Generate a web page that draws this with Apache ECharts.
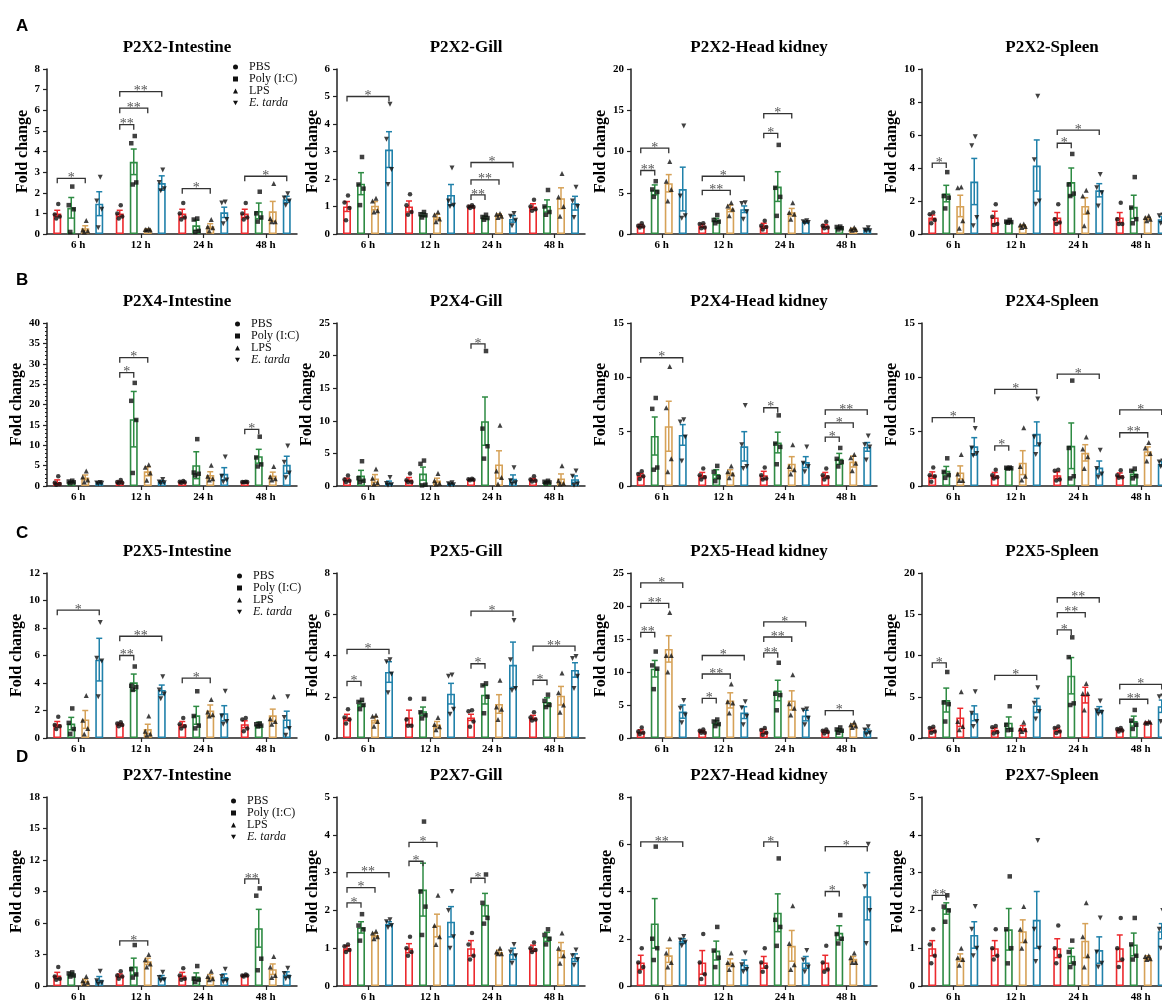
<!DOCTYPE html>
<html>
<head>
<meta charset="utf-8">
<script src="https://cdn.jsdelivr.net/npm/echarts@6/dist/echarts.min.js"></script>
<style>
html, body { margin: 0; padding: 0; background: #fff; }
#chart { width: 1162px; height: 1006px; }
</style>
</head>
<body>
<div id="chart"></div>
<script>
// categories / groups
const times = ['6 h', '12 h', '24 h', '48 h'];
const groups = ['PBS', 'Poly (I:C)', 'LPS', 'E. tarda'];
const titles = [
  'P2X2-Intestine', 'P2X2-Gill', 'P2X2-Head kidney', 'P2X2-Spleen',
  'P2X4-Intestine', 'P2X4-Gill', 'P2X4-Head kidney', 'P2X4-Spleen',
  'P2X5-Intestine', 'P2X5-Gill', 'P2X5-Head kidney', 'P2X5-Spleen',
  'P2X7-Intestine', 'P2X7-Gill', 'P2X7-Head kidney', 'P2X7-Spleen'
];
const yMax = [8, 6, 20, 10, 40, 25, 15, 15, 12, 8, 25, 20, 18, 5, 8, 5];
const yStep = [1, 1, 5, 2, 5, 5, 5, 5, 2, 2, 5, 5, 3, 1, 2, 1];
const letters = ['A', 'B', 'C', 'D'];

// rows = time (6,12,24,48 h), columns = PBS, Poly (I:C), LPS, E. tarda
// sig rows: [time, from group, to group, bracket height, stars]

// ---- P2X2 ----
const p2x2IntMean = [[1.0, 1.27, 0.28, 1.47], [1.0, 3.5, 0.22, 2.47], [1.0, 0.42, 0.38, 1.05], [1.0, 1.12, 1.1, 1.68]];
const p2x2IntSem = [[0.15, 0.5, 0.12, 0.58], [0.15, 0.62, 0.03, 0.35], [0.2, 0.25, 0.12, 0.25], [0.2, 0.38, 0.48, 0.15]];
const p2x2IntPts = [
  [[1.45, 0.95, 0.85, 0.75], [2.3, 1.4, 1.2, 0.1], [0.65, 0.2, 0.15, 0.1], [2.75, 1.6, 1.2, 0.3]],
  [[1.4, 1.0, 0.85, 0.75], [4.75, 4.4, 2.5, 2.4], [0.25, 0.22, 0.2, 0.2], [3.1, 2.5, 2.2, 2.1]],
  [[1.5, 1.0, 0.8, 0.7], [0.75, 0.7, 0.15, 0.1], [0.7, 0.35, 0.3, 0.15], [1.55, 1.5, 0.7, 0.5]],
  [[1.5, 1.0, 0.8, 0.7], [2.05, 1.0, 0.8, 0.6], [2.45, 0.75, 0.6, 0.6], [1.95, 1.75, 1.6, 1.4]]
];
const p2x2IntSig = [[0, 0, 2, 2.7, 1], [1, 0, 1, 5.3, 2], [1, 0, 2, 6.1, 2], [1, 0, 3, 6.9, 2], [2, 0, 2, 2.2, 1], [3, 0, 3, 2.8, 1]];

const p2x2GillMean = [[1.0, 1.83, 1.03, 3.07], [1.0, 0.7, 0.62, 1.42], [1.0, 0.6, 0.68, 0.55], [1.0, 1.02, 1.3, 1.12]];
const p2x2GillSem = [[0.18, 0.4, 0.15, 0.65], [0.2, 0.06, 0.1, 0.38], [0.03, 0.05, 0.05, 0.12], [0.1, 0.22, 0.38, 0.25]];
const p2x2GillPts = [
  [[1.4, 1.15, 0.95, 0.5], [2.8, 1.8, 1.65, 1.05], [1.3, 1.2, 0.85, 0.8], [4.72, 3.45, 2.35, 1.8]],
  [[1.45, 1.05, 0.8, 0.7], [0.8, 0.72, 0.68, 0.6], [0.8, 0.7, 0.55, 0.45], [2.4, 1.2, 1.05, 1.0]],
  [[1.05, 1.0, 0.98, 0.95], [0.7, 0.62, 0.58, 0.52], [0.75, 0.72, 0.65, 0.6], [0.75, 0.65, 0.5, 0.3]],
  [[1.25, 1.0, 0.9, 0.85], [1.6, 1.0, 0.8, 0.7], [2.2, 1.35, 1.0, 0.65], [1.7, 1.2, 1.0, 0.6]]
];
const p2x2GillSig = [[0, 0, 3, 5.0, 1], [2, 0, 1, 1.42, 2], [2, 0, 2, 1.97, 2], [2, 0, 3, 2.6, 1]];

const p2x2HkMean = [[1.0, 5.35, 6.15, 5.45], [1.0, 1.7, 3.1, 3.0], [1.0, 5.75, 2.65, 1.45], [1.0, 0.75, 0.6, 0.5]];
const p2x2HkSem = [[0.15, 0.6, 1.05, 2.65], [0.2, 0.2, 0.4, 0.4], [0.3, 1.8, 0.45, 0.1], [0.15, 0.1, 0.1, 0.12]];
const p2x2HkPts = [
  [[1.3, 1.0, 0.9, 0.8], [6.4, 5.4, 5.1, 4.5], [8.8, 6.4, 5.4, 4.0], [13.1, 4.6, 2.2, 1.9]],
  [[1.3, 1.2, 0.8, 0.7], [2.3, 1.7, 1.5, 1.3], [3.8, 3.4, 3.0, 2.2], [3.8, 3.7, 2.7, 1.8]],
  [[1.6, 1.0, 0.85, 0.55], [10.8, 5.6, 4.5, 2.2], [3.8, 2.6, 2.4, 1.8], [1.6, 1.5, 1.4, 1.3]],
  [[1.5, 1.0, 0.8, 0.7], [0.9, 0.85, 0.7, 0.55], [0.8, 0.6, 0.55, 0.45], [0.75, 0.5, 0.4, 0.35]]
];
const p2x2HkSig = [[0, 0, 1, 7.7, 2], [0, 0, 2, 10.4, 1], [1, 0, 2, 5.3, 2], [1, 0, 3, 7.0, 1], [2, 0, 1, 12.2, 1], [2, 0, 2, 14.6, 1]];

const p2x2SplMean = [[1.0, 2.45, 1.7, 3.18], [1.0, 0.75, 0.5, 4.15], [1.0, 3.15, 1.7, 2.65], [1.0, 1.65, 0.95, 0.9]];
const p2x2SplSem = [[0.15, 0.5, 0.65, 1.4], [0.38, 0.05, 0.05, 1.55], [0.3, 0.85, 0.5, 0.4], [0.3, 0.7, 0.07, 0.15]];
const p2x2SplPts = [
  [[1.3, 1.2, 0.85, 0.65], [3.75, 2.3, 2.2, 1.55], [2.85, 2.8, 0.8, 0.35], [5.9, 5.35, 1.0, 0.5]],
  [[1.8, 1.05, 0.6, 0.55], [0.85, 0.75, 0.72, 0.68], [0.6, 0.55, 0.45, 0.4], [8.35, 4.5, 2.0, 1.8]],
  [[1.8, 0.9, 0.7, 0.6], [4.85, 3.0, 2.45, 2.3], [2.65, 2.3, 1.35, 0.5], [3.6, 2.8, 2.5, 1.7]],
  [[1.9, 0.9, 0.6, 0.6], [3.45, 1.6, 0.9, 0.65], [1.1, 1.0, 0.9, 0.8], [1.15, 1.1, 0.7, 0.65]]
];
const p2x2SplSig = [[0, 0, 1, 4.3, 1], [2, 0, 1, 5.5, 1], [2, 0, 3, 6.3, 1]];

// ---- P2X4 ----
const p2x4IntMean = [[1.0, 1.0, 2.1, 0.7], [1.0, 16.4, 3.6, 1.0], [1.0, 5.1, 2.7, 3.0], [1.0, 7.3, 2.6, 5.2]];
const p2x4IntSem = [[0.5, 0.15, 0.6, 0.1], [0.2, 6.8, 1.1, 0.3], [0.1, 3.3, 0.8, 1.5], [0.05, 1.7, 0.8, 2.1]];
const p2x4IntPts = [
  [[2.4, 0.8, 0.5, 0.3], [1.3, 1.1, 0.9, 0.7], [3.7, 2.2, 1.5, 1.0], [0.85, 0.75, 0.65, 0.55]],
  [[1.5, 1.0, 0.8, 0.7], [25.3, 20.9, 16.2, 3.2], [5.2, 4.6, 3.2, 1.4], [1.6, 1.0, 0.8, 0.6]],
  [[1.2, 1.05, 0.95, 0.8], [11.5, 3.3, 3.0, 2.6], [5.1, 2.4, 1.8, 1.5], [7.1, 2.4, 1.5, 1.0]],
  [[1.05, 1.0, 1.0, 0.95], [12.1, 7.0, 5.3, 4.8], [4.8, 2.3, 1.8, 1.5], [9.8, 5.8, 3.2, 2.0]]
];
const p2x4IntSig = [[1, 0, 1, 27.8, 1], [1, 0, 2, 31.5, 1], [3, 0, 1, 13.9, 1]];

const p2x4GillMean = [[1.0, 1.6, 1.15, 0.5], [1.0, 1.9, 0.85, 0.3], [1.0, 9.95, 3.3, 1.1], [1.0, 0.6, 1.15, 1.05]];
const p2x4GillSem = [[0.2, 0.8, 0.6, 0.25], [0.3, 1.0, 0.35, 0.1], [0.05, 3.7, 2.1, 0.6], [0.15, 0.1, 0.7, 0.5]];
const p2x4GillPts = [
  [[1.6, 1.0, 0.8, 0.6], [3.8, 1.2, 0.8, 0.6], [2.6, 1.2, 0.5, 0.3], [1.3, 0.4, 0.2, 0.1]],
  [[1.9, 0.9, 0.6, 0.6], [3.9, 3.4, 0.2, 0.1], [1.9, 0.8, 0.4, 0.3], [0.5, 0.35, 0.2, 0.15]],
  [[1.1, 1.05, 0.95, 0.9], [20.7, 8.8, 6.1, 4.2], [9.3, 2.3, 1.3, 0.3], [2.8, 0.8, 0.5, 0.3]],
  [[1.5, 1.0, 0.8, 0.7], [0.8, 0.65, 0.55, 0.4], [3.1, 0.8, 0.4, 0.3], [2.3, 1.5, 0.3, 0.1]]
];
const p2x4GillSig = [[2, 0, 1, 21.8, 1]];

const p2x4HkMean = [[1.0, 4.6, 5.5, 4.7], [1.0, 1.1, 1.25, 3.65], [1.0, 4.0, 2.05, 2.2], [1.0, 2.5, 2.25, 3.6]];
const p2x4HkSem = [[0.15, 1.75, 2.3, 0.95], [0.25, 0.4, 0.25, 1.35], [0.35, 0.95, 0.65, 0.5], [0.25, 0.5, 0.5, 0.4]];
const p2x4HkPts = [
  [[1.35, 1.1, 0.9, 0.65], [8.1, 7.1, 1.7, 1.5], [11.0, 7.2, 2.5, 1.3], [6.1, 5.9, 4.5, 2.3]],
  [[1.6, 1.0, 0.8, 0.6], [1.85, 1.3, 0.8, 0.45], [1.85, 1.3, 1.1, 0.75], [7.4, 3.8, 1.8, 1.6]],
  [[1.7, 1.0, 0.7, 0.6], [6.5, 3.9, 3.6, 2.0], [3.8, 1.8, 1.5, 1.1], [3.6, 2.1, 1.8, 1.3]],
  [[1.6, 1.0, 0.8, 0.6], [3.5, 2.5, 2.2, 1.8], [2.9, 2.6, 2.1, 1.4], [4.6, 3.8, 3.6, 2.4]]
];
const p2x4HkSig = [[0, 0, 3, 11.8, 1], [2, 0, 1, 7.2, 1], [3, 0, 1, 4.5, 1], [3, 0, 2, 5.8, 1], [3, 0, 3, 7.0, 2]];

const p2x4SplMean = [[1.0, 1.4, 1.25, 3.65], [1.0, 1.65, 2.15, 4.8], [1.0, 3.7, 3.05, 1.7], [1.0, 1.15, 3.2, 2.05]];
const p2x4SplSem = [[0.3, 0.4, 0.6, 0.8], [0.25, 0.03, 1.1, 1.1], [0.3, 2.1, 0.75, 0.6], [0.2, 0.25, 0.4, 0.2]];
const p2x4SplPts = [
  [[1.7, 1.0, 0.9, 0.4], [2.55, 1.3, 1.0, 0.75], [2.9, 1.1, 0.5, 0.5], [5.3, 3.5, 3.0, 2.8]],
  [[1.5, 1.0, 0.8, 0.7], [1.7, 1.68, 1.63, 1.6], [5.35, 1.8, 0.9, 0.55], [8.0, 4.5, 3.8, 2.9]],
  [[1.5, 1.4, 0.6, 0.5], [9.7, 3.5, 0.9, 0.7], [4.5, 3.4, 2.7, 1.6], [3.3, 1.6, 1.1, 0.8]],
  [[1.45, 1.0, 0.8, 0.75], [1.6, 1.4, 0.9, 0.7], [4.0, 3.5, 3.0, 2.3], [2.3, 2.2, 1.9, 1.8]]
];
const p2x4SplSig = [[0, 0, 3, 6.3, 1], [1, 0, 1, 3.7, 1], [1, 0, 3, 8.9, 1], [2, 0, 3, 10.3, 1], [3, 0, 2, 4.9, 2], [3, 0, 3, 7.0, 1]];

// ---- P2X5 ----
const p2x5IntMean = [[1.0, 1.05, 1.35, 5.7], [1.0, 4.05, 0.65, 3.5], [1.0, 1.65, 2.0, 1.8], [1.0, 0.95, 1.65, 1.35]];
const p2x5IntSem = [[0.2, 0.45, 0.65, 1.55], [0.08, 0.6, 0.35, 0.35], [0.2, 0.65, 0.4, 0.55], [0.25, 0.2, 0.45, 0.6]];
const p2x5IntPts = [
  [[1.55, 0.95, 0.85, 0.65], [2.15, 1.1, 0.65, 0.3], [3.1, 1.3, 0.7, 0.3], [8.4, 5.8, 5.6, 3.0]],
  [[1.15, 1.05, 0.95, 0.85], [5.2, 3.8, 3.7, 3.5], [1.6, 0.5, 0.3, 0.2], [4.45, 3.5, 3.2, 2.85]],
  [[1.45, 1.0, 0.85, 0.7], [3.4, 1.6, 0.9, 0.7], [2.8, 1.9, 1.7, 1.6], [3.4, 1.6, 1.2, 1.0]],
  [[1.45, 1.35, 0.7, 0.5], [1.05, 1.0, 0.9, 0.85], [3.0, 1.4, 1.2, 1.0], [3.0, 1.5, 0.7, 0.2]]
];
const p2x5IntSig = [[0, 0, 3, 9.3, 1], [1, 0, 1, 6.0, 2], [1, 0, 3, 7.4, 2], [2, 0, 2, 4.35, 1]];

const p2x5GillMean = [[1.0, 1.65, 0.88, 3.2], [1.0, 1.3, 0.65, 2.15], [1.0, 2.1, 1.65, 3.55], [1.0, 1.75, 2.05, 3.3]];
const p2x5GillSem = [[0.15, 0.12, 0.15, 0.5], [0.35, 0.2, 0.15, 0.5], [0.15, 0.45, 0.45, 1.1], [0.1, 0.2, 0.45, 0.35]];
const p2x5GillPts = [
  [[1.4, 1.0, 0.9, 0.7], [1.85, 1.75, 1.6, 1.4], [1.1, 1.05, 0.8, 0.57], [3.8, 3.7, 3.1, 2.2]],
  [[1.9, 0.9, 0.6, 0.6], [1.9, 1.25, 1.1, 0.95], [1.0, 0.65, 0.55, 0.4], [3.05, 3.0, 1.4, 1.15]],
  [[1.35, 1.3, 0.8, 0.55], [2.65, 2.55, 2.0, 1.2], [2.8, 1.5, 1.4, 0.9], [5.7, 3.8, 2.4, 2.3]],
  [[1.25, 1.0, 0.9, 0.85], [2.1, 1.8, 1.6, 1.5], [3.15, 2.2, 1.6, 1.25], [3.95, 3.85, 3.0, 2.4]]
];
const p2x5GillSig = [[0, 0, 1, 2.75, 1], [0, 0, 3, 4.3, 1], [2, 0, 1, 3.6, 1], [2, 0, 3, 6.15, 1], [3, 0, 1, 2.8, 1], [3, 0, 3, 4.45, 2]];

const p2x5HkMean = [[1.0, 10.5, 13.5, 4.0], [1.0, 2.3, 5.7, 3.85], [1.0, 7.2, 5.7, 3.4], [1.0, 1.2, 1.95, 1.05]];
const p2x5HkSem = [[0.25, 1.25, 2.0, 1.0], [0.15, 0.3, 1.15, 0.9], [0.3, 1.55, 1.45, 0.8], [0.15, 0.2, 0.2, 0.3]];
const p2x5HkPts = [
  [[1.6, 1.0, 0.8, 0.6], [13.1, 11.0, 10.5, 7.4], [19.0, 12.5, 12.5, 10.0], [5.7, 4.5, 3.5, 2.3]],
  [[1.3, 1.1, 0.8, 0.8], [2.8, 2.5, 2.1, 1.8], [8.2, 5.5, 5.3, 3.8], [5.5, 4.6, 3.3, 2.0]],
  [[1.5, 1.2, 0.8, 0.5], [11.4, 6.7, 6.5, 4.2], [9.6, 5.2, 4.5, 3.5], [4.4, 4.2, 3.0, 2.0]],
  [[1.3, 1.1, 0.9, 0.7], [1.6, 1.3, 1.1, 0.8], [2.4, 2.0, 1.8, 1.6], [1.7, 1.2, 0.8, 0.5]]
];
const p2x5HkSig = [[0, 0, 1, 16.0, 2], [0, 0, 2, 20.4, 2], [0, 0, 3, 23.5, 1], [1, 0, 1, 6.0, 1], [1, 0, 2, 9.7, 2], [1, 0, 3, 12.5, 1],
  [2, 0, 1, 12.9, 2], [2, 0, 2, 15.3, 2], [2, 0, 3, 17.6, 1], [3, 0, 2, 4.15, 1]];

const p2x5SplMean = [[1.0, 4.6, 2.5, 3.0], [1.0, 1.85, 1.2, 3.95], [1.0, 7.55, 5.2, 3.45], [1.0, 2.05, 1.9, 3.85]];
const p2x5SplSem = [[0.2, 1.45, 1.1, 0.9], [0.2, 0.7, 0.3, 0.85], [0.2, 2.2, 0.95, 0.35], [0.1, 0.6, 0.05, 0.75]];
const p2x5SplPts = [
  [[1.35, 1.2, 0.8, 0.65], [8.0, 4.3, 4.1, 2.0], [5.6, 2.0, 1.4, 1.0], [5.6, 3.0, 2.0, 1.4]],
  [[1.45, 1.3, 0.7, 0.55], [3.85, 1.6, 1.0, 0.95], [1.9, 1.1, 1.0, 0.8], [6.1, 4.2, 3.2, 2.3]],
  [[1.4, 1.2, 0.8, 0.6], [12.2, 9.8, 4.2, 4.0], [6.6, 5.4, 5.4, 3.4], [4.5, 3.3, 3.1, 2.9]],
  [[1.2, 1.1, 0.9, 0.8], [3.4, 2.1, 1.6, 1.1], [2.0, 1.9, 1.9, 1.8], [5.1, 5.0, 3.3, 2.0]]
];
const p2x5SplSig = [[0, 0, 1, 9.1, 1], [1, 0, 3, 7.6, 1], [2, 0, 1, 13.1, 1], [2, 0, 2, 15.2, 2], [2, 0, 3, 17.0, 2], [3, 0, 2, 4.7, 2], [3, 0, 3, 6.5, 1]];

// ---- P2X7 ----
const p2x7IntMean = [[1.0, 1.1, 0.5, 0.6], [1.0, 1.85, 2.35, 0.8], [1.0, 0.9, 0.9, 0.85], [1.0, 5.5, 1.6, 1.1]];
const p2x7IntSem = [[0.3, 0.15, 0.15, 0.3], [0.15, 0.8, 0.3, 0.2], [0.3, 0.35, 0.2, 0.3], [0.05, 1.8, 0.5, 0.25]];
const p2x7IntPts = [
  [[1.8, 0.9, 0.7, 0.6], [1.3, 1.2, 1.0, 0.9], [0.9, 0.5, 0.35, 0.25], [1.4, 0.5, 0.3, 0.2]],
  [[1.4, 1.0, 0.9, 0.7], [3.9, 1.6, 1.1, 0.8], [3.0, 2.5, 2.1, 1.8], [1.3, 0.8, 0.6, 0.5]],
  [[1.7, 1.0, 0.7, 0.6], [1.9, 0.7, 0.6, 0.4], [1.4, 0.9, 0.7, 0.6], [1.6, 0.9, 0.5, 0.4]],
  [[1.1, 1.0, 1.0, 0.9], [9.3, 8.6, 2.6, 1.5], [2.8, 1.8, 1.0, 0.8], [1.7, 1.2, 0.8, 0.7]]
];
const p2x7IntSig = [[1, 0, 2, 4.3, 1], [3, 0, 1, 10.2, 2]];

const p2x7GillMean = [[1.0, 1.55, 1.35, 1.65], [1.0, 2.55, 1.6, 1.7], [1.0, 2.15, 0.9, 0.85], [1.0, 1.3, 0.95, 0.75]];
const p2x7GillSem = [[0.06, 0.15, 0.05, 0.05], [0.12, 0.7, 0.3, 0.4], [0.2, 0.3, 0.05, 0.15], [0.08, 0.12, 0.2, 0.1]];
const p2x7GillPts = [
  [[1.1, 1.05, 0.95, 0.9], [1.9, 1.6, 1.5, 1.2], [1.45, 1.4, 1.3, 1.25], [1.75, 1.7, 1.6, 1.55]],
  [[1.3, 1.0, 0.9, 0.8], [4.35, 2.5, 2.1, 1.35], [2.4, 1.6, 1.3, 1.1], [2.5, 2.0, 1.3, 1.0]],
  [[1.4, 1.1, 0.8, 0.7], [2.95, 2.2, 1.8, 1.65], [1.0, 0.9, 0.85, 0.85], [1.1, 0.9, 0.8, 0.6]],
  [[1.15, 1.0, 0.95, 0.9], [1.5, 1.35, 1.25, 1.1], [1.4, 1.0, 0.8, 0.6], [0.95, 0.8, 0.7, 0.55]]
];
const p2x7GillSig = [[0, 0, 1, 2.2, 1], [0, 0, 2, 2.6, 1], [0, 0, 3, 3.0, 2], [1, 0, 1, 3.3, 1], [1, 0, 2, 3.8, 1], [2, 0, 1, 2.85, 1]];

const p2x7HkMean = [[1.0, 2.65, 1.3, 1.9], [1.0, 1.5, 1.0, 0.9], [1.0, 3.1, 1.7, 1.0], [1.0, 2.25, 1.15, 3.8]];
const p2x7HkSem = [[0.3, 1.05, 0.3, 0.1], [0.5, 0.4, 0.15, 0.2], [0.25, 0.8, 0.65, 0.25], [0.3, 0.3, 0.1, 1.0]];
const p2x7HkPts = [
  [[1.6, 1.0, 0.8, 0.6], [5.9, 2.0, 1.6, 1.1], [2.0, 1.4, 1.0, 0.8], [2.1, 1.95, 1.85, 1.7]],
  [[2.2, 1.0, 0.5, 0.3], [2.5, 1.5, 1.2, 0.8], [1.4, 1.0, 0.9, 0.7], [1.4, 0.9, 0.7, 0.6]],
  [[1.6, 1.0, 0.8, 0.6], [5.4, 2.8, 2.5, 1.7], [3.4, 1.8, 0.9, 0.7], [1.5, 1.1, 0.8, 0.6]],
  [[1.7, 1.0, 0.7, 0.6], [3.0, 2.2, 2.0, 1.8], [1.4, 1.2, 1.0, 1.0], [6.0, 4.2, 3.2, 1.8]]
];
const p2x7HkSig = [[0, 0, 3, 6.1, 2], [2, 0, 1, 6.1, 1], [3, 0, 1, 4.0, 1], [3, 0, 3, 5.9, 1]];

const p2x7SplMean = [[1.0, 2.05, 0.75, 1.35], [1.0, 1.5, 1.45, 1.75], [1.0, 0.8, 1.2, 0.95], [1.0, 1.1, 0.75, 1.45]];
const p2x7SplSem = [[0.2, 0.15, 0.1, 0.35], [0.2, 0.55, 0.3, 0.75], [0.25, 0.2, 0.45, 0.35], [0.35, 0.3, 0.05, 0.2]];
const p2x7SplPts = [
  [[1.5, 1.1, 0.8, 0.6], [2.4, 2.1, 2.0, 1.7], [1.0, 0.75, 0.7, 0.55], [2.1, 1.5, 1.0, 0.8]],
  [[1.5, 1.0, 0.8, 0.7], [2.9, 1.5, 1.0, 0.6], [2.1, 1.5, 1.2, 1.0], [3.85, 1.5, 1.0, 0.65]],
  [[1.6, 1.0, 0.8, 0.6], [1.2, 0.9, 0.6, 0.5], [2.2, 1.3, 0.8, 0.5], [1.8, 0.9, 0.6, 0.5]],
  [[1.8, 1.0, 0.7, 0.5], [1.8, 1.1, 0.8, 0.7], [0.8, 0.78, 0.72, 0.7], [2.0, 1.5, 1.3, 1.0]]
];
const p2x7SplSig = [[0, 0, 1, 2.4, 2]];

const means = [p2x2IntMean, p2x2GillMean, p2x2HkMean, p2x2SplMean, p2x4IntMean, p2x4GillMean, p2x4HkMean, p2x4SplMean,
  p2x5IntMean, p2x5GillMean, p2x5HkMean, p2x5SplMean, p2x7IntMean, p2x7GillMean, p2x7HkMean, p2x7SplMean];
const sems = [p2x2IntSem, p2x2GillSem, p2x2HkSem, p2x2SplSem, p2x4IntSem, p2x4GillSem, p2x4HkSem, p2x4SplSem,
  p2x5IntSem, p2x5GillSem, p2x5HkSem, p2x5SplSem, p2x7IntSem, p2x7GillSem, p2x7HkSem, p2x7SplSem];
const points = [p2x2IntPts, p2x2GillPts, p2x2HkPts, p2x2SplPts, p2x4IntPts, p2x4GillPts, p2x4HkPts, p2x4SplPts,
  p2x5IntPts, p2x5GillPts, p2x5HkPts, p2x5SplPts, p2x7IntPts, p2x7GillPts, p2x7HkPts, p2x7SplPts];
const sigs = [p2x2IntSig, p2x2GillSig, p2x2HkSig, p2x2SplSig, p2x4IntSig, p2x4GillSig, p2x4HkSig, p2x4SplSig,
  p2x5IntSig, p2x5GillSig, p2x5HkSig, p2x5SplSig, p2x7IntSig, p2x7GillSig, p2x7HkSig, p2x7SplSig];

// ---- layout / style ----
const serif = 'Liberation Serif';
const colors = ['#ec2a2e', '#2e8b43', '#d6a258', '#2081aa'];
const symbols = ['circle', 'rect', 'triangle', 'path://M0,0L10,0L5,9Z'];
const symbolSize = [4.5, 4.5, 5, 5];
const jitter = [1, -2.5, 2.5, -1];
const colLeft = [47, 337, 631, 922];
const colWidth = [250, 248, 246, 250];
const rowTop = [69, 323, 573, 797];
const rowHeight = [165, 163, 165, 189];
const letterTop = [13, 267, 520, 744];
const legendPos = [[233, 61], [235, 318], [237, 570], [231, 795]];

function panelColors(p) {
  // the LPS bars of P2X5-Spleen are drawn in red in the original
  return p === 11 ? [colors[0], colors[1], colors[0], colors[3]] : colors;
}

function errorRender(cols) {
  return function (params, api) {
    const t = api.value(0), g = api.value(1), m = api.value(2), s = api.value(3);
    const cx = api.coord([t, 0])[0] + (g - 1.5) * 14;
    const yh = api.coord([t, m + s])[1];
    const yl = api.coord([t, Math.max(0, m - s)])[1];
    const style = { stroke: cols[g], lineWidth: 1.5, fill: null };
    return {
      type: 'group',
      children: [
        { type: 'line', shape: { x1: cx, y1: yh, x2: cx, y2: yl }, style: style },
        { type: 'line', shape: { x1: cx - 3, y1: yh, x2: cx + 3, y2: yh }, style: style },
        { type: 'line', shape: { x1: cx - 3, y1: yl, x2: cx + 3, y2: yl }, style: style }
      ]
    };
  };
}

function sigRender(params, api) {
  const t = api.value(0), a = api.value(1), b = api.value(2);
  const y = api.coord([t, api.value(3)])[1];
  const cx = api.coord([t, 0])[0];
  const x1 = cx + (a - 1.5) * 14, x2 = cx + (b - 1.5) * 14;
  return {
    type: 'group',
    children: [
      { type: 'polyline', shape: { points: [[x1, y + 5], [x1, y], [x2, y], [x2, y + 5]] },
        style: { stroke: '#333', lineWidth: 1.3, fill: null } },
      { type: 'text', x: (x1 + x2) / 2, y: y,
        style: { text: '*'.repeat(api.value(4)), font: '14px "Liberation Serif"', fill: '#555', align: 'center', verticalAlign: 'middle' } }
    ]
  };
}

const grid = [], xAxis = [], yAxis = [], series = [], title = [], legend = [];

for (let p = 0; p < 16; p++) {
  const r = Math.floor(p / 4), c = p % 4;
  const cols = panelColors(p);
  grid.push({ left: colLeft[c], top: rowTop[r], width: colWidth[c], height: rowHeight[r], outerBoundsMode: 'none' });
  xAxis.push({
    type: 'category', gridIndex: p, data: times,
    axisLine: { show: true, lineStyle: { color: '#222', width: 1.5 } },
    axisTick: { show: true, alignWithLabel: true, length: 4, lineStyle: { color: '#222', width: 1.2 } },
    axisLabel: { interval: 0, margin: 6, fontFamily: serif, fontWeight: 'bold', fontSize: 11, color: '#000' }
  });
  yAxis.push({
    type: 'value', gridIndex: p, min: 0, max: yMax[p], interval: yStep[p],
    name: 'Fold change', nameLocation: 'middle', nameGap: yMax[p] >= 10 ? 17 : 12,
    nameTextStyle: { fontFamily: serif, fontWeight: 'bold', fontSize: 16, color: '#000' },
    axisLine: { show: true, lineStyle: { color: '#222', width: 1.5 } },
    axisTick: { show: true, length: 4, lineStyle: { color: '#222', width: 1.2 } },
    minorTick: { show: p === 4, splitNumber: 5, length: 2, lineStyle: { color: '#222' } },
    splitLine: { show: false },
    axisLabel: { margin: 7, fontFamily: serif, fontWeight: 'bold', fontSize: 11, color: '#000' }
  });
  title.push({
    text: titles[p], left: colLeft[c] + colWidth[c] / 2, top: rowTop[r] - 35, textAlign: 'center',
    textStyle: { fontFamily: serif, fontWeight: 'bold', fontSize: 17, color: '#000' }
  });

  for (let g = 0; g < 4; g++) {
    series.push({
      type: 'bar', name: groups[g], xAxisIndex: p, yAxisIndex: p,
      barWidth: 8, barGap: '75%', z: 2, silent: true,
      itemStyle: { color: '#fff', borderColor: cols[g], borderWidth: 1.6 },
      data: means[p].map(row => row[g])
    });
  }
  const errData = [];
  means[p].forEach((row, t) => row.forEach((m, g) => errData.push([t, g, m, sems[p][t][g]])));
  series.push({
    type: 'custom', xAxisIndex: p, yAxisIndex: p, z: 3, silent: true,
    renderItem: errorRender(cols), encode: { x: 0, y: 2 }, data: errData
  });
  for (let g = 0; g < 4; g++) {
    const d = [];
    points[p].forEach((row, t) => row[g].forEach((v, k) => d.push({ value: [t, v], symbolOffset: [(g - 1.5) * 14 + jitter[k], 0] })));
    series.push({
      type: 'scatter', name: groups[g], xAxisIndex: p, yAxisIndex: p, z: 4, silent: true,
      symbol: symbols[g], symbolSize: symbolSize[g], itemStyle: { color: '#111' }, data: d
    });
  }
  series.push({
    type: 'custom', xAxisIndex: p, yAxisIndex: p, z: 5, silent: true,
    renderItem: sigRender, encode: { x: 0, y: 3 }, data: sigs[p]
  });
}

for (let r = 0; r < 4; r++) {
  title.push({
    text: letters[r], left: 11, top: letterTop[r],
    textStyle: { fontFamily: 'Liberation Sans', fontWeight: 'bold', fontSize: 17, color: '#000' }
  });
  legend.push({
    orient: 'vertical', left: legendPos[r][0], top: legendPos[r][1],
    itemWidth: 5, itemHeight: 5, itemGap: 0, selectedMode: false, padding: 0,
    textStyle: { fontFamily: serif, fontSize: 12, lineHeight: 12, color: '#111', padding: [0, 0, 0, 6] },
    data: groups.map((n, g) => ({
      name: n, icon: symbols[g], itemStyle: { color: '#111', borderWidth: 0 },
      textStyle: g === 3 ? { fontStyle: 'italic' } : {}
    }))
  });
}

const myChart = echarts.init(document.getElementById('chart'), null, { renderer: 'canvas' });
myChart.setOption({
  animation: false,
  backgroundColor: '#fff',
  title: title,
  legend: legend,
  grid: grid,
  xAxis: xAxis,
  yAxis: yAxis,
  series: series
});
</script>
</body>
</html>
